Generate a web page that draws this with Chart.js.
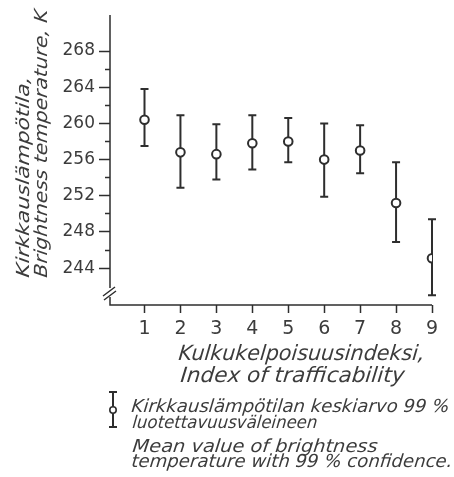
<!DOCTYPE html>
<html>
<head>
<meta charset="utf-8">
<script src="https://cdn.jsdelivr.net/npm/chart.js@4/dist/chart.umd.min.js"></script>
<style>
  html, body { margin: 0; padding: 0; background: #ffffff; }
  #wrap { width: 454px; height: 477px; }
</style>
</head>
<body>
<div id="wrap"><canvas id="chart" width="454" height="477"></canvas></div>
<script>
// Trafficability index classes (x) and brightness temperature in kelvin
const trafficIndex = [1, 2, 3, 4, 5, 6, 7, 8, 9];
const meanTemp  = [260.4, 256.8, 256.6, 257.8, 258.0, 256.0, 257.0, 251.2, 245.1];
const upperTemp = [263.8, 260.9, 259.9, 260.9, 260.6, 260.0, 259.8, 255.7, 249.4];
const lowerTemp = [257.5, 252.9, 253.8, 254.9, 255.7, 251.9, 254.5, 246.9, 241.0];

// Axis ticks: every 2 K marked, every 4 K labelled
const yTickValues = [244, 246, 248, 250, 252, 254, 256, 258, 260, 262, 264, 266, 268];
const yLabelValues = [244, 248, 252, 256, 260, 264, 268];
const xTickValues = [1, 2, 3, 4, 5, 6, 7, 8, 9];

// Text
const yTitleLines = ['Kirkkauslämpötila,', 'Brightness temperature, K'];
const xTitleLines = ['Kulkukelpoisuusindeksi,', 'Index of trafficability'];
const legendLines = [
  'Kirkkauslämpötilan keskiarvo 99 %',
  'luotettavuusväleineen',
  'Mean value of brightness',
  'temperature with 99 % confidence.'
];

const INK = '#2e2e2e';
const TEXT = '#3c3c3c';
const FAMILY = '"DejaVu Sans", "Liberation Sans", sans-serif';

// draw a line of slanted lettering squeezed/stretched to a given length
function fitText(ctx, text, x, y, len, font, rotated) {
  ctx.save();
  ctx.font = font;
  ctx.fillStyle = TEXT;
  ctx.textAlign = 'left';
  ctx.textBaseline = 'alphabetic';
  const w = ctx.measureText(text).width;
  ctx.translate(x, y);
  if (rotated) ctx.rotate(-Math.PI / 2);
  ctx.scale(len / w, 1);
  ctx.transform(1, 0, -0.1, 1, 0, 0);
  ctx.fillText(text, 0, 0);
  ctx.restore();
}

// confidence interval whiskers, drawn beneath the mean markers
const errorBars = {
  id: 'errorBars',
  beforeDatasetsDraw(chart) {
    const { ctx, scales: { x, y } } = chart;
    ctx.save();
    ctx.strokeStyle = INK;
    ctx.lineWidth = 2;
    ctx.lineCap = 'butt';
    trafficIndex.forEach((v, i) => {
      const px = x.getPixelForValue(v);
      const top = y.getPixelForValue(upperTemp[i]);
      const bot = y.getPixelForValue(lowerTemp[i]);
      ctx.beginPath();
      ctx.moveTo(px, top); ctx.lineTo(px, bot);
      ctx.moveTo(px - 4, top); ctx.lineTo(px + 4, top);
      ctx.moveTo(px - 4, bot); ctx.lineTo(px + 4, bot);
      ctx.stroke();
    });
    ctx.restore();
  }
};

// axis lines with the broken y axis, titles and the key
const frame = {
  id: 'frame',
  afterDraw(chart) {
    const { ctx, chartArea: a } = chart;
    ctx.save();
    ctx.strokeStyle = INK;
    ctx.lineWidth = 1.5;
    ctx.beginPath();
    // y axis, interrupted near the bottom
    ctx.moveTo(a.left, a.top);
    ctx.lineTo(a.left, a.bottom - 17);
    ctx.moveTo(a.left, a.bottom - 8);
    ctx.lineTo(a.left, a.bottom);
    // x axis
    ctx.lineTo(a.right, a.bottom);
    // break marks
    ctx.moveTo(a.left - 7, a.bottom - 9);
    ctx.lineTo(a.left + 5, a.bottom - 18);
    ctx.moveTo(a.left - 6, a.bottom - 5);
    ctx.lineTo(a.left + 6, a.bottom - 14);
    ctx.stroke();

    const titleFont = 'oblique 18px ' + FAMILY;
    // y title, rotated, reading upwards
    fitText(ctx, yTitleLines[0], 29, 278, 201, titleFont, true);
    fitText(ctx, yTitleLines[1], 47, 278, 268, titleFont, true);

    // x title
    const xFont = 'oblique 21px ' + FAMILY;
    fitText(ctx, xTitleLines[0], 178, 360, 246, xFont, false);
    fitText(ctx, xTitleLines[1], 180, 382, 224, xFont, false);

    // key symbol
    ctx.lineWidth = 2;
    ctx.beginPath();
    ctx.moveTo(113, 392); ctx.lineTo(113, 427);
    ctx.moveTo(109, 392); ctx.lineTo(117, 392);
    ctx.moveTo(109, 427); ctx.lineTo(117, 427);
    ctx.stroke();
    ctx.beginPath();
    ctx.arc(113, 410, 3.2, 0, Math.PI * 2);
    ctx.fillStyle = '#ffffff';
    ctx.fill();
    ctx.lineWidth = 1.6;
    ctx.stroke();

    const keyFont = 'oblique 18px ' + FAMILY;
    fitText(ctx, legendLines[0], 131, 412, 318, keyFont, false);
    fitText(ctx, legendLines[1], 132, 428, 185, 'oblique 17.5px ' + FAMILY, false);
    fitText(ctx, legendLines[2], 132, 452, 245, keyFont, false);
    fitText(ctx, legendLines[3], 131, 467, 321, keyFont, false);
    ctx.restore();
  }
};

new Chart(document.getElementById('chart'), {
  type: 'scatter',
  data: {
    datasets: [{
      data: trafficIndex.map((v, i) => ({ x: v, y: meanTemp[i] })),
      pointRadius: 4.3,
      pointBorderWidth: 2,
      pointBorderColor: INK,
      pointBackgroundColor: '#ffffff',
      showLine: false
    }]
  },
  options: {
    responsive: false,
    animation: false,
    events: [],
    layout: { padding: { top: 15, right: 22, left: 0, bottom: 0 } },
    plugins: { legend: { display: false }, tooltip: { enabled: false } },
    scales: {
      x: {
        type: 'linear',
        position: 'bottom',
        min: 0.04,
        max: 9,
        afterBuildTicks: s => { s.ticks = xTickValues.map(v => ({ value: v })); },
        afterFit: s => { s.height = 172; },
        border: { display: false },
        grid: { drawOnChartArea: false, tickLength: 8, tickColor: INK, tickWidth: 1.5 },
        ticks: {
          color: TEXT,
          padding: 5,
          font: { family: FAMILY, size: 19 },
          maxRotation: 0,
          callback: v => String(v)
        }
      },
      y: {
        type: 'linear',
        position: 'left',
        min: 239.93,
        max: 271.98,
        afterBuildTicks: s => { s.ticks = yTickValues.map(v => ({ value: v })); },
        afterFit: s => { s.width = 110; },
        border: { display: false },
        grid: {
          drawOnChartArea: false,
          tickLength: 11,
          tickColor: INK,
          tickWidth: 1.5,
          // labelled ticks run the full length, the others only the inner part
          tickBorderDash: c => yLabelValues.includes(c.tick.value) ? [] : [0, 6, 6, 0]
        },
        ticks: {
          color: TEXT,
          padding: 4,
          font: { family: FAMILY, size: 17 },
          callback: v => yLabelValues.includes(v) ? String(v) : ''
        }
      }
    }
  },
  plugins: [errorBars, frame]
});
</script>
</body>
</html>
